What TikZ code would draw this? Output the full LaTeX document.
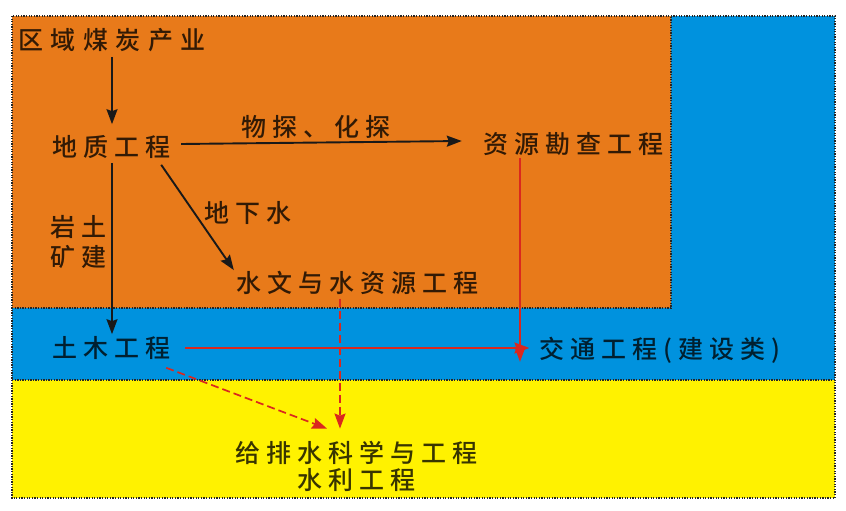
\documentclass[tikz,border=0pt]{standalone}
\usepackage{fontspec}
\newfontfamily\cjk[LetterSpace=24]{Noto Sans CJK SC Medium}
\newfontfamily\cjkw[LetterSpace=30]{Noto Sans CJK SC Medium}
\usetikzlibrary{arrows.meta,calc}
\definecolor{orangebg}{RGB}{232,122,26}
\definecolor{bluebg}{RGB}{0,146,222}
\definecolor{yellowbg}{RGB}{255,242,0}
\definecolor{redline}{RGB}{218,40,30}
\tikzset{
  lbl/.style={inner sep=0pt, font=\cjk\fontsize{25}{28}\selectfont, text=black, text opacity=0.78, align=center},
  border/.style={draw=black!85, line width=1.2pt, dash pattern=on 1.3pt off 1.3pt},
  blackarr/.style={draw=black!90, line width=1.9pt, -{Stealth[length=15pt,width=11pt,inset=2pt]}},
  redarr/.style={draw=redline, line width=1.7pt, -{Stealth[length=15pt,width=11pt,inset=2pt]}},
  reddash/.style={redarr, dash pattern=on 8pt off 4pt}
}
\begin{document}
\begin{tikzpicture}[x=1pt,y=-1pt]
\useasboundingbox (0,0) rectangle (846,511);
% backgrounds
\fill[yellowbg] (12,16) rectangle (835,498);
\fill[bluebg] (12,16) rectangle (835,380);
\fill[orangebg] (12,16) rectangle (671,308);
% borders
\draw[border] (12,16) rectangle (835,498);
\draw[border] (12,308) -- (671,308) -- (671,16);
\draw[border] (12,380) -- (835,380);
% nodes
\node[lbl, font=\cjkw\fontsize{25}{28}\selectfont] (qy) at (112,40) {区域煤炭产业};
\node[lbl] (dz) at (111,147) {地质工程};
\node[lbl] (zy) at (573,144) {资源勘查工程};
\node[lbl] (sw) at (357,283) {水文与水资源工程};
\node[lbl] (tm) at (111,348) {土木工程};
\node[lbl] (jt) at (660,350) {交通工程(建设类)};
\node[lbl, align=center] (gp) at (356,466) {给排水科学与工程\\[-1pt]水利工程};
% edge labels
\node[lbl] (l1) at (316,127) {物探、化探};
\node[lbl] (l2) at (248,213) {地下水};
\node[lbl, align=left] (l3) at (78,242) {岩土\\[2pt]矿建};
% connectors
\coordinate (c1) at ($(dz.south east)+(-9,6)$);
\coordinate (c2) at ($(sw.north west)+(-2,-1)$);
\draw[blackarr] ($(qy.south)+(0,5)$) -- ($(qy.south |- dz.north)+(0,-11)$);
\draw[blackarr] ($(dz.east)+(11,-3)$) -- ($(zy.west)+(-21,-3)$);
\draw[blackarr] (c1) -- (c2);
\draw[blackarr] ($(qy.south |- dz.south)+(0,4)$) -- ($(qy.south |- tm.north)+(0,-2)$);
\draw[redarr] ($(tm.east)+(15,0)$) -- ($(jt.west)+(-10,-2)$);
\draw[redarr] ($(zy.south)+(-53,2)$) -- ($(zy.south)+(-53,206)$);
\coordinate (c3) at ($(sw.south)+(-17,4)$);
\draw[reddash] (c3) -- ($(gp.north)+(-16,-12)$);
\draw[reddash] ($(tm.south east)+(-4,8)$) -- ($(gp.north)+(-29,-12)$);
\end{tikzpicture}
\end{document}
